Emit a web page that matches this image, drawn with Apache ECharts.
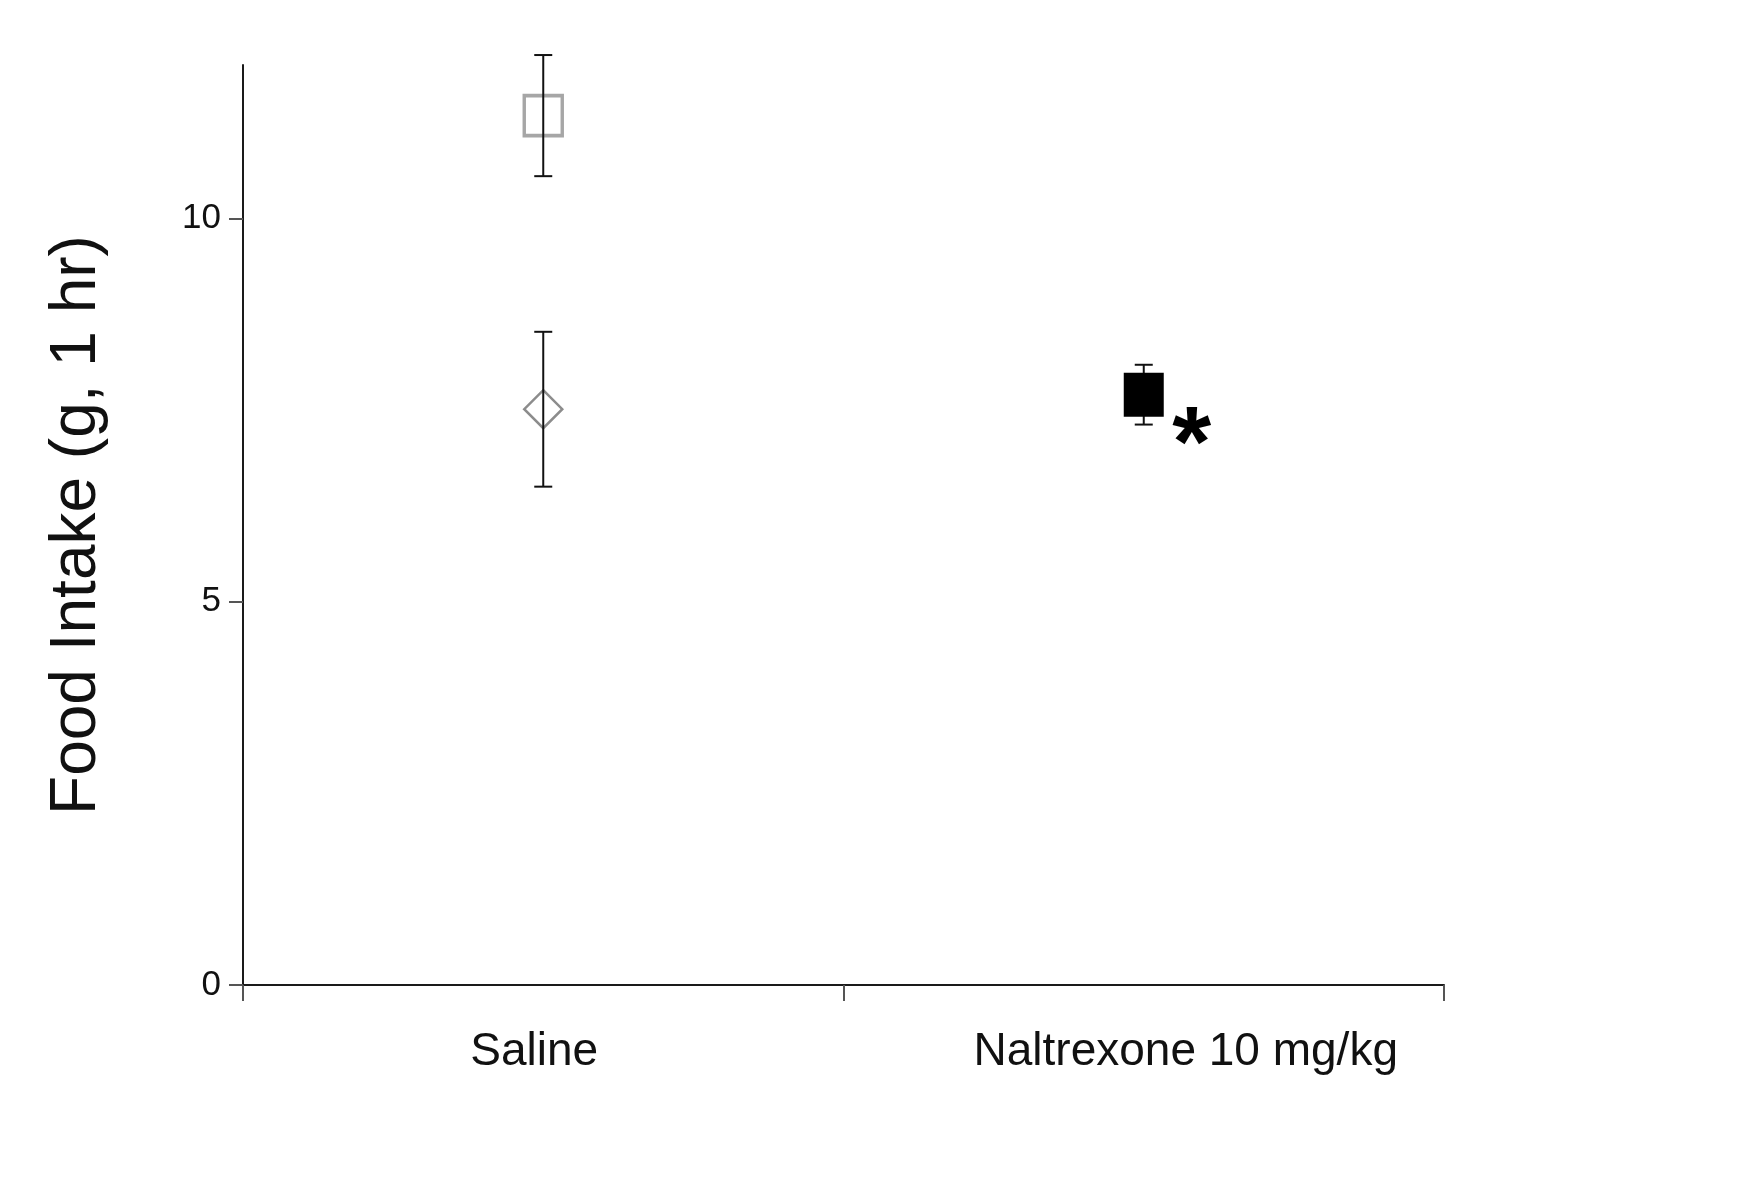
<!DOCTYPE html>
<html>
<head>
<meta charset="utf-8">
<script src="https://cdn.jsdelivr.net/npm/echarts@6/dist/echarts.min.js"></script>
<style>
  html, body { margin: 0; padding: 0; background: #ffffff; }
  #chart { width: 1749px; height: 1181px; }
</style>
</head>
<body>
<div id="chart"></div>
<script>
// ---- data ----
const categories = ['Saline', 'Naltrexone 10 mg/kg'];
const yTicks = [0, 5, 10];
const openSquareMean = [11.34, null];
const openSquareSem  = [0.79, null];
const diamondMean    = [7.51, null];
const diamondSem     = [1.01, null];
const filledMean     = [null, 7.70];
const filledSem      = [null, 0.39];
const yAxisTitle = 'Food Intake (g, 1 hr)';
const sigMark = '*';

function toPoints(means) {
  const out = [];
  means.forEach((m, i) => { if (m !== null) out.push([i, m]); });
  return out;
}
function toErr(means, sems) {
  const out = [];
  means.forEach((m, i) => { if (m !== null) out.push([i, m, sems[i]]); });
  return out;
}

const FONT = '"Liberation Sans", Arial, Helvetica, sans-serif';

const chart = echarts.init(document.getElementById('chart'), null, { renderer: 'canvas' });

function errRender(params, api) {
  const x = api.value(0), m = api.value(1), s = api.value(2);
  const top = api.coord([x, m + s]);
  const bot = api.coord([x, m - s]);
  const hw = 9;
  const st = { stroke: '#111', lineWidth: 2 };
  return {
    type: 'group',
    children: [
      { type: 'line', shape: { x1: top[0], y1: top[1], x2: bot[0], y2: bot[1] }, style: st },
      { type: 'line', shape: { x1: top[0] - hw, y1: top[1], x2: top[0] + hw, y2: top[1] }, style: st },
      { type: 'line', shape: { x1: bot[0] - hw, y1: bot[1], x2: bot[0] + hw, y2: bot[1] }, style: st }
    ]
  };
}

const option = {
  backgroundColor: '#ffffff',
  animation: false,
  grid: { left: 243, right: 305, top: 65, bottom: 196, containLabel: false },
  xAxis: {
    type: 'category',
    data: categories,
    boundaryGap: true,
    axisLine: { show: true, lineStyle: { color: '#1a1a1a', width: 2 } },
    axisTick: { show: true, inside: false, interval: 0, length: 16, alignWithLabel: false, lineStyle: { color: '#555', width: 2 } },
    axisLabel: {
      interval: 0,
      hideOverlap: false,
      fontFamily: FONT, fontSize: 46, color: '#111', margin: 44,
      formatter: function (v, i) { return i === 0 ? '{a|' + v + '}' : '{b|' + v + '}'; },
      rich: {
        a: { fontFamily: FONT, fontSize: 46, color: '#111', padding: [0, 18, 0, 0] },
        b: { fontFamily: FONT, fontSize: 46, color: '#111', padding: [0, 0, 0, 84] }
      }
    },
    splitLine: { show: false }
  },
  yAxis: {
    type: 'value',
    min: 0,
    max: 12,
    interval: 5,
    name: yAxisTitle,
    nameLocation: 'middle',
    nameRotate: 90,
    nameGap: 134,
    nameTextStyle: { fontFamily: FONT, fontSize: 64, color: '#111' },
    axisLine: { show: true, lineStyle: { color: '#1a1a1a', width: 2 } },
    axisTick: { show: true, inside: false, length: 14, customValues: yTicks, lineStyle: { color: '#555', width: 2 } },
    axisLabel: { fontFamily: FONT, fontSize: 35, color: '#111', margin: 22, customValues: yTicks },
    splitLine: { show: false }
  },
  series: [
    {
      name: 'Open square',
      type: 'scatter',
      data: toPoints(openSquareMean),
      symbol: 'rect',
      symbolSize: [38, 40],
      itemStyle: { color: '#ffffff', borderColor: '#a6a6a6', borderWidth: 3.5, opacity: 1 },
      z: 2
    },
    {
      name: 'Diamond',
      type: 'scatter',
      data: toPoints(diamondMean),
      symbol: 'diamond',
      symbolSize: [38, 38],
      itemStyle: { color: '#ffffff', borderColor: '#8c8c8c', borderWidth: 2.5, opacity: 1 },
      z: 2
    },
    {
      name: 'Filled square',
      type: 'scatter',
      data: toPoints(filledMean),
      symbol: 'rect',
      symbolSize: [40, 44],
      itemStyle: { color: '#000000', borderColor: '#000000', borderWidth: 0, opacity: 1 },
      label: {
        show: true,
        formatter: sigMark,
        position: 'inside',
        offset: [48, 54],
        fontFamily: FONT,
        fontSize: 100,
        fontWeight: 'bold',
        color: '#000',
        opacity: 1
      },
      z: 4
    },
    {
      name: 'err-open',
      type: 'custom',
      renderItem: errRender,
      data: toErr(openSquareMean, openSquareSem),
      z: 3
    },
    {
      name: 'err-diamond',
      type: 'custom',
      renderItem: errRender,
      data: toErr(diamondMean, diamondSem),
      z: 3
    },
    {
      name: 'err-filled',
      type: 'custom',
      renderItem: errRender,
      data: toErr(filledMean, filledSem),
      z: 3
    }
  ]
};

chart.setOption(option);
</script>
</body>
</html>
